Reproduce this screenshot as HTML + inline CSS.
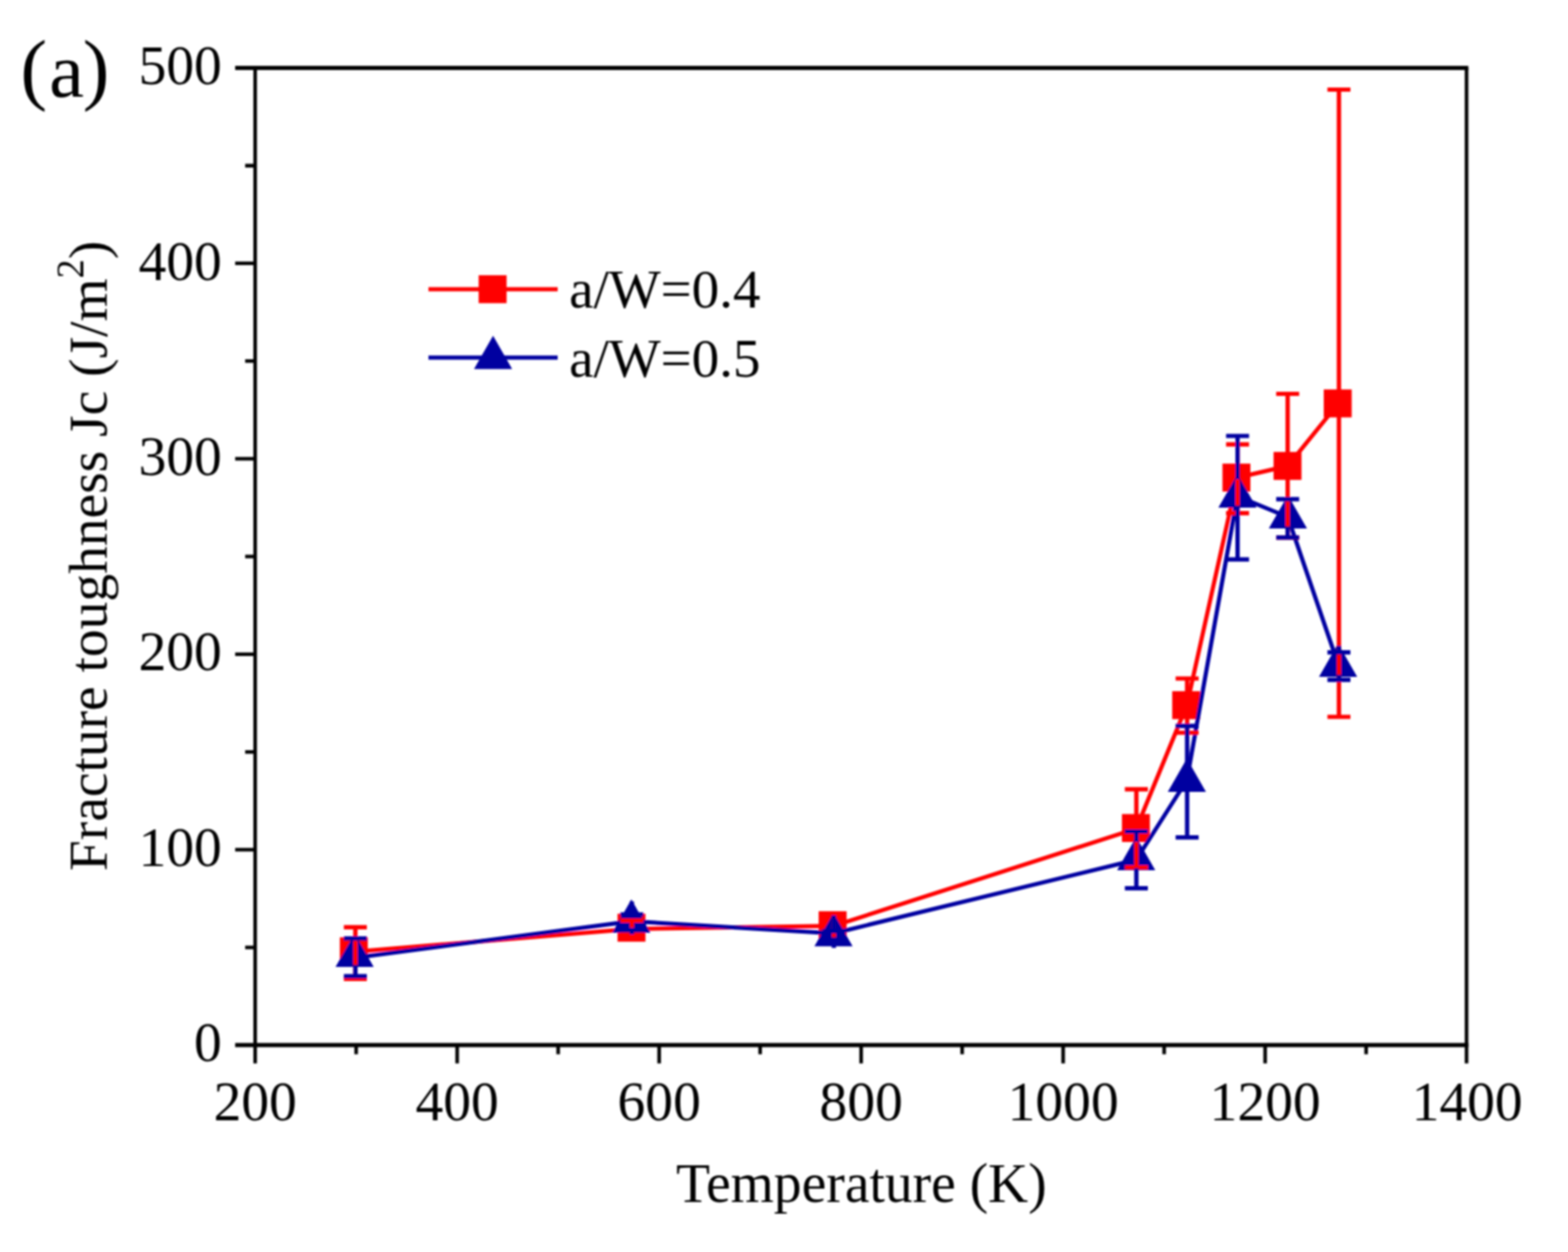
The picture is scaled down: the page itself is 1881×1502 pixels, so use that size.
<!DOCTYPE html>
<html lang="en"><head><meta charset="utf-8"><title>Fracture toughness vs temperature</title>
<style>html,body{margin:0;padding:0;background:#fff}body{width:1881px;height:1502px;overflow:hidden}svg{display:block}</style></head>
<body>
<svg width="1881" height="1502" viewBox="0 0 1881 1502" role="img" aria-label="Fracture toughness Jc versus temperature for a/W=0.4 and a/W=0.5">
<rect width="1881" height="1502" fill="#fff"/>
<defs><filter id="soft" x="0" y="0" width="1881" height="1502" filterUnits="userSpaceOnUse"><feGaussianBlur stdDeviation="1.2"/></filter></defs>
<g id="chart" filter="url(#soft)">
<g stroke="#000" fill="none" stroke-linecap="butt">
<path d="M282.1 81.5H1761.45M282.1 1253.8H1761.45" stroke-width="5.0"/>
<path d="M294.1 1136.57H306.1M282.1 1019.34H306.1M294.1 902.11H306.1M282.1 784.88H306.1M294.1 667.65H306.1M282.1 550.42H306.1M294.1 433.19H306.1M282.1 315.96H306.1M294.1 198.73H306.1" stroke-width="4.3"/>
<path d="M306.1 81.5V1275.8M1759.3 81.5V1275.8M427.26 1253.8V1264.8M548.42 1253.8V1275.8M669.58 1253.8V1264.8M790.73 1253.8V1275.8M911.89 1253.8V1264.8M1033.05 1253.8V1275.8M1154.21 1253.8V1264.8M1275.37 1253.8V1275.8M1396.53 1253.8V1264.8M1517.68 1253.8V1275.8M1638.84 1253.8V1264.8" stroke-width="4.3"/>
</g>
<g font-family="'Liberation Serif', serif" font-size="66.6" fill="#000">
<text x="266.1" y="1273.40" text-anchor="end">0</text>
<text x="266.1" y="1038.94" text-anchor="end">100</text>
<text x="266.1" y="804.48" text-anchor="end">200</text>
<text x="266.1" y="570.02" text-anchor="end">300</text>
<text x="266.1" y="335.56" text-anchor="end">400</text>
<text x="266.1" y="101.10" text-anchor="end">500</text>
<text x="306.10" y="1343.6" text-anchor="middle">200</text>
<text x="548.42" y="1343.6" text-anchor="middle">400</text>
<text x="790.73" y="1343.6" text-anchor="middle">600</text>
<text x="1033.05" y="1343.6" text-anchor="middle">800</text>
<text x="1275.37" y="1343.6" text-anchor="middle">1000</text>
<text x="1517.68" y="1343.6" text-anchor="middle">1200</text>
<text x="1760.00" y="1343.6" text-anchor="middle">1400</text>
<text x="1033.3" y="1442.2" text-anchor="middle">Temperature (K)</text>
<text transform="translate(127.6 1045.0) rotate(-90)" font-size="66.5">Fracture toughness Jc (J/m<tspan font-size="46" dy="-28">2</tspan><tspan dy="28">)</tspan></text>
<text x="24.5" y="114" font-size="96">(<tspan dx="2.5" dy="1.5" font-size="94">a</tspan><tspan dx="-1.5" dy="-1.5">)</tspan></text>
<text x="682.7" y="369.2" font-size="66">a/W=0.4</text>
<text x="682.7" y="451.6" font-size="66">a/W=0.5</text>
</g>
<polyline points="425.4,1141.8 757.6,1114.4 999.8,1110.8 1363.0,994.2 1423.8,846.0 1484.4,573.0 1544.8,559.0 1605.5,484.0" fill="none" stroke="#ff0000" stroke-width="5.0" stroke-linejoin="round"/>
<rect x="407.7" y="1124.5" width="33.5" height="33.5" fill="#ff0000"/>
<rect x="740.8" y="1096.2" width="33.5" height="33.5" fill="#ff0000"/>
<rect x="982.1" y="1093.2" width="33.5" height="33.5" fill="#ff0000"/>
<rect x="1345.9" y="976.6" width="33.5" height="33.5" fill="#ff0000"/>
<rect x="1406.2" y="829.2" width="33.5" height="33.5" fill="#ff0000"/>
<rect x="1466.5" y="556.2" width="33.5" height="33.5" fill="#ff0000"/>
<rect x="1527.8" y="542.2" width="33.5" height="33.5" fill="#ff0000"/>
<rect x="1588.0" y="467.2" width="33.5" height="33.5" fill="#ff0000"/>
<polyline points="425.4,1149.0 757.6,1105.2 999.8,1119.7 1363.0,1031.5 1423.8,936.0 1484.4,595.3 1544.8,620.2 1605.5,797.6" fill="none" stroke="#0000a0" stroke-width="5.0" stroke-linejoin="round"/>
<polygon points="425.4,1120.1 402.5,1160.1 448.3,1160.1" fill="#0000a0"/>
<polygon points="757.4,1078.9 734.5,1118.9 780.3,1118.9" fill="#0000a0"/>
<polygon points="999.9,1095.2 977.0,1135.2 1022.8,1135.2" fill="#0000a0"/>
<polygon points="1363.0,1004.1 1340.1,1044.1 1385.9,1044.1" fill="#0000a0"/>
<polygon points="1423.8,909.9 1400.9,949.9 1446.7,949.9" fill="#0000a0"/>
<polygon points="1484.5,569.1 1461.6,609.1 1507.4,609.1" fill="#0000a0"/>
<polygon points="1545.0,594.0 1522.1,634.0 1567.9,634.0" fill="#0000a0"/>
<polygon points="1605.2,772.0 1582.3,812.0 1628.1,812.0" fill="#0000a0"/>
<path d="M426.3 1112.4V1174.3M412.5 1112.4h27.6M412.5 1174.3h27.6" fill="none" stroke="#ff0000" stroke-width="5.2"/>
<path d="M758.0 1104.3V1121.0M744.2 1104.3h27.6M744.2 1121.0h27.6" fill="none" stroke="#ff0000" stroke-width="5.2"/>
<path d="M1000.3 1096.0V1127.0" fill="none" stroke="#ff0000" stroke-width="5.2"/>
<path d="M1363.2 946.8V1040.6M1349.4 946.8h27.6M1349.4 1040.6h27.6" fill="none" stroke="#ff0000" stroke-width="5.2"/>
<path d="M1424.1 814.0V879.0M1410.3 814.0h27.6M1410.3 879.0h27.6" fill="none" stroke="#ff0000" stroke-width="5.2"/>
<path d="M1484.6 533.2V615.6M1470.8 533.2h27.6M1470.8 615.6h27.6" fill="none" stroke="#ff0000" stroke-width="5.2"/>
<path d="M1544.7 472.5V645.0M1530.9 472.5h27.6M1530.9 645.0h27.6" fill="none" stroke="#ff0000" stroke-width="5.2"/>
<path d="M1606.2 107.5V860.0M1592.4 107.5h27.6M1592.4 860.0h27.6" fill="none" stroke="#ff0000" stroke-width="5.2"/>
<path d="M426.3 1125.8V1126.0M426.3 1157.6V1171.2M412.5 1125.8h27.6M412.5 1171.2h27.6" fill="none" stroke="#0000a0" stroke-width="5.2"/>
<path d="M758.0 1081.6V1097.0M758.0 1115.6V1120.9M744.2 1097.0h27.6M744.2 1115.6h27.6" fill="none" stroke="#0000a0" stroke-width="5.2"/>
<path d="M1000.3 1097.9V1117.2M1000.3 1127.2V1137.2M986.5 1117.2h27.6M986.5 1127.2h27.6" fill="none" stroke="#0000a0" stroke-width="5.2"/>
<path d="M1363.2 997.5V1010.0M1363.2 1041.6V1065.6M1349.4 997.5h27.6M1349.4 1065.6h27.6" fill="none" stroke="#0000a0" stroke-width="5.2"/>
<path d="M1424.1 870.8V915.8M1424.1 947.4V1004.6M1410.3 870.8h27.6M1410.3 1004.6h27.6" fill="none" stroke="#0000a0" stroke-width="5.2"/>
<path d="M1484.6 523.0V575.0M1484.6 606.6V671.2M1470.8 523.0h27.6M1470.8 671.2h27.6" fill="none" stroke="#0000a0" stroke-width="5.2"/>
<path d="M1544.7 598.8V599.9M1544.7 631.5V644.8M1530.9 598.8h27.6M1530.9 644.8h27.6" fill="none" stroke="#0000a0" stroke-width="5.2"/>
<path d="M1606.2 774.7V782.6M1606.2 809.5V815.6M1592.4 782.6h27.6M1592.4 815.6h27.6" fill="none" stroke="#0000a0" stroke-width="5.2"/>
<line x1="514" y1="347" x2="669" y2="347" stroke="#ff0000" stroke-width="5.0"/>
<rect x="574.2" y="330.2" width="33.5" height="33.5" fill="#ff0000"/>
<line x1="514" y1="429" x2="669" y2="429" stroke="#0000a0" stroke-width="5.0"/>
<polygon points="591.5,402.8 568.6,442.8 614.4,442.8" fill="#0000a0"/>
</g>
</svg>
</body></html>
